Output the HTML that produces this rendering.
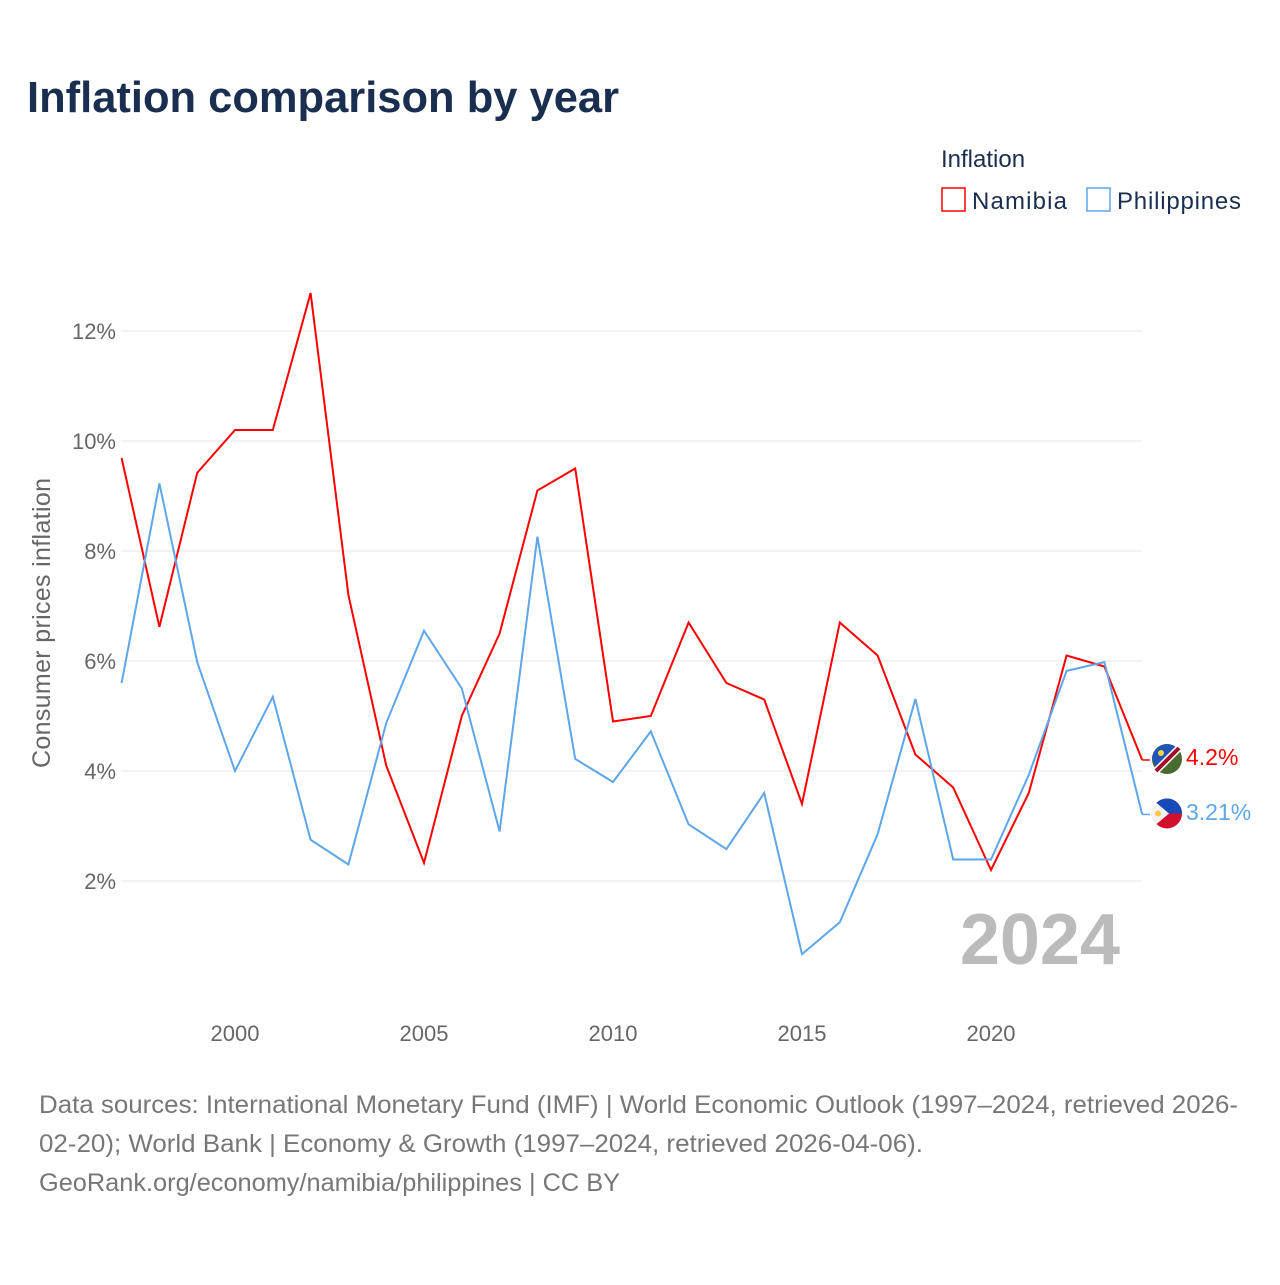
<!DOCTYPE html>
<html><head><meta charset="utf-8"><style>
body{margin:0;background:#fff;font-family:"Liberation Sans",sans-serif}
</style></head><body>
<svg id="chart" width="1280" height="1280" xmlns="http://www.w3.org/2000/svg">
<text x="27" y="112" font-size="44" font-weight="bold" fill="#1a2e4f" textLength="592" lengthAdjust="spacingAndGlyphs">Inflation comparison by year</text>
<g>
<text x="941" y="167" font-size="24" fill="#1a2e4f">Inflation</text>
<g><rect x="942" y="188" width="23" height="23" fill="none" stroke="#f00" stroke-width="1.5"/><text x="972" y="209" font-size="24" fill="#1a2e4f" textLength="95">Namibia</text></g>
<g><rect x="1087" y="188" width="23" height="23" fill="none" stroke="#5ea6ea" stroke-width="1.5"/><text x="1117" y="209" font-size="24" fill="#1a2e4f" textLength="124">Philippines</text></g>
</g>
<g id="grid"></g><g id="xaxis"></g><g id="series"></g>
<text transform="translate(50,623) rotate(-90)" text-anchor="middle" font-size="25" fill="#666" textLength="290">Consumer prices inflation</text>
<text x="1120" y="964" text-anchor="end" font-size="72" font-weight="bold" fill="#bbb">2024</text>
<g id="endlabels"></g>
<g font-size="25" fill="#777">
<text x="39" y="1113" textLength="1199" lengthAdjust="spacingAndGlyphs">Data sources: International Monetary Fund (IMF) | World Economic Outlook (1997–2024, retrieved 2026-</text>
<text x="39" y="1152" textLength="884" lengthAdjust="spacingAndGlyphs">02-20); World Bank | Economy &amp; Growth (1997–2024, retrieved 2026-04-06).</text>
<text x="39" y="1191" textLength="581" lengthAdjust="spacingAndGlyphs">GeoRank.org/economy/namibia/philippines | CC BY</text>
</g>
</svg>
<script>
const years=[1997,1998,1999,2000,2001,2002,2003,2004,2005,2006,2007,2008,2009,2010,2011,2012,2013,2014,2015,2016,2017,2018,2019,2020,2021,2022,2023,2024];
const namibia=[9.69,6.62,9.42,10.2,10.2,12.69,7.2,4.1,2.33,5.0,6.5,9.1,9.5,4.9,5.0,6.7,5.6,5.3,3.4,6.7,6.1,4.3,3.7,2.2,3.6,6.1,5.9,4.2];
const philippines=[5.6,9.23,5.98,4.0,5.35,2.75,2.3,4.87,6.55,5.5,2.9,8.26,4.22,3.8,4.72,3.03,2.58,3.6,0.67,1.25,2.85,5.31,2.39,2.39,3.93,5.82,5.98,3.21];
const yTicks=[2,4,6,8,10,12];
const xTicks=[2000,2005,2010,2015,2020];
const NS="http://www.w3.org/2000/svg";
const X=y=>121.6+(y-1997)*37.8;
const Y=v=>991-v*55;
function mk(t,a,p){const e=document.createElementNS(NS,t);for(const k in a)e.setAttribute(k,a[k]);p.appendChild(e);return e;}
const grid=document.getElementById('grid');
yTicks.forEach(t=>{
 const l=mk('line',{x1:121,x2:1142,y1:Y(t),y2:Y(t),stroke:'#e6e6e6'},grid);
 
 
 const tx=mk('text',{x:116,y:Y(t)+8,'text-anchor':'end','font-size':22,fill:'#666'},grid);
 
 
 tx.textContent=t+'%';
});
const xa=document.getElementById('xaxis');
xTicks.forEach(t=>{
 const tx=mk('text',{x:X(t),y:1041,'text-anchor':'middle','font-size':22,fill:'#666'},xa);
 
 
 tx.textContent=t;
});
const sg=document.getElementById('series');
[[namibia,'#f00','namibia-line'],[philippines,'#5ea6ea','philippines-line']].forEach(([d,c,n])=>{
 const p=mk('path',{d:d.map((v,i)=>(i?'L':'M')+X(years[i])+','+Y(v)).join(''),fill:'none',stroke:c,'stroke-width':2},sg);
 
 
});
const el=document.getElementById('endlabels');
const last=years.length-1;
[[namibia[last],'#f00','namibia-end-label',757],[philippines[last],'#5ea6ea','philippines-end-label',812]].forEach(([v,c,n,ly])=>{
 const g=mk('g',{},el);
 
 
 mk('path',{d:`M${X(2024)},${Y(v)}L1150,${Y(v)}`,stroke:c,'stroke-width':1.5,fill:'none'},g);
 const cy=Y(v)-1;
 if(n.startsWith('namibia')){
  mk('circle',{cx:1167,cy:cy,r:15,fill:'#4a6b2e'},g);
  mk('path',{d:`M1152,${cy}A15,15 0 0 1 1178,${cy-10}L1157,${cy+10}Z`,fill:'#1f55b8'},g);
  mk('line',{x1:1156,y1:cy+12,x2:1179,y2:cy-11,stroke:'#fff','stroke-width':7},g);
  mk('line',{x1:1156,y1:cy+12,x2:1179,y2:cy-11,stroke:'#a0102a','stroke-width':4},g);
  mk('circle',{cx:1161,cy:cy-6,r:3,fill:'#ffd23f'},g);
 } else {
  mk('circle',{cx:1167,cy:cy,r:15,fill:'#d2102e'},g);
  mk('path',{d:`M1152,${cy}A15,15 0 0 1 1182,${cy}Z`,fill:'#1749b8'},g);
  mk('path',{d:`M1156,${cy-11}L1169,${cy}L1156,${cy+11}A15,15 0 0 1 1156,${cy-11}Z`,fill:'#f3f3f3'},g);
  mk('circle',{cx:1158,cy:cy,r:3,fill:'#f7c948'},g);
 }
 const t=mk('text',{x:1186,y:ly+8,'font-size':23,fill:c},g);
 t.textContent=v+'%';
});
</script>
</body></html>
